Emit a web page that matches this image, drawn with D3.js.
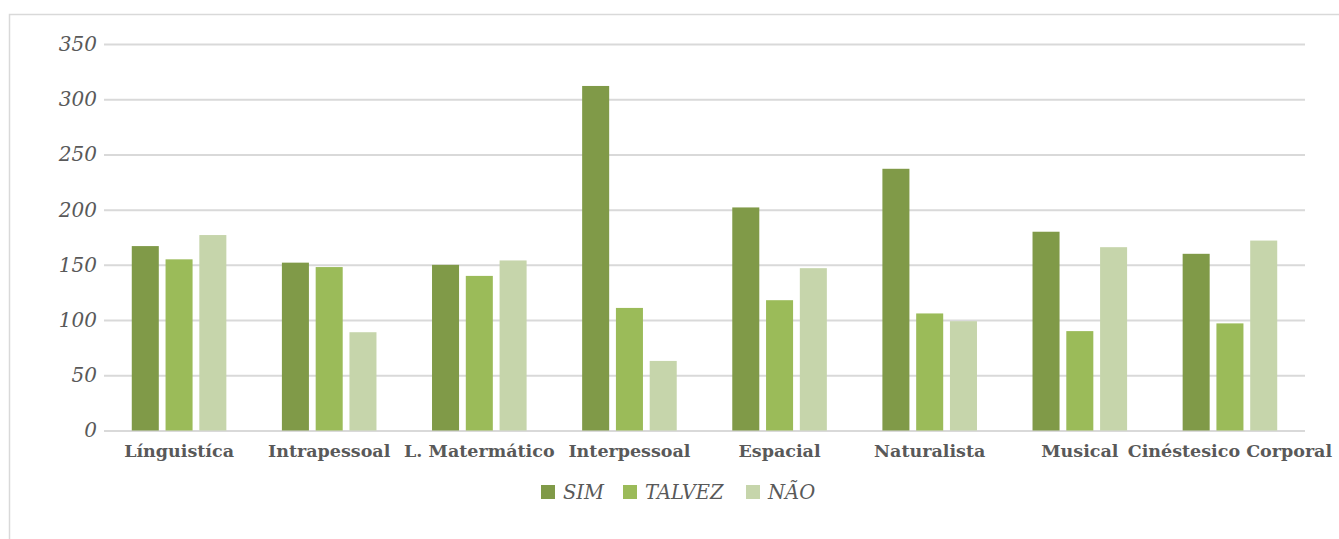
<!DOCTYPE html>
<html>
<head>
<meta charset="utf-8">
<script src="https://cdn.jsdelivr.net/npm/d3@7"></script>
<style>
  body { margin: 0; background: #fff; }
  svg text { fill: #595959; }
  .tick text { font-family: "DejaVu Serif", serif; font-style: italic; font-size: 20px; }
  .x-axis text { font-family: "DejaVu Serif", serif; font-weight: bold; font-size: 17.5px; font-style: normal; }
  .legend text { font-family: "DejaVu Serif", serif; font-style: italic; font-size: 19.5px; }
</style>
</head>
<body>
<div id="chart"></div>
<script>
const categories = ["Línguistíca", "Intrapessoal", "L. Matermático", "Interpessoal", "Espacial", "Naturalista", "Musical", "Cinéstesico Corporal"]
const seriesNames = ["SIM", "TALVEZ", "NÃO"]
const sim = [167, 152, 150, 312, 202, 237, 180, 160]
const talvez = [155, 148, 140, 111, 118, 106, 90, 97]
const nao = [177, 89, 154, 63, 147, 99, 166, 172]
const yTicks = [0, 50, 100, 150, 200, 250, 300, 350]
const colors = ["#809a48", "#9bbb59", "#c6d5ab"]

const width = 1339, height = 539
const svg = d3.select('#chart').append('svg').attr('width', width).attr('height', height)

// outer chart border
svg.append('rect').attr('x', 9.5).attr('y', 14.5).attr('width', 1400).attr('height', 600)
  .attr('fill', 'none').attr('stroke', '#d9d9d9').attr('stroke-width', 1.5)

const plotLeft = 104, plotRight = 1305, plotTop = 44, plotBottom = 430.5
const x = d3.scaleBand().domain(categories).range([plotLeft, plotRight]).paddingInner(0.37).paddingOuter(0.185)
const xs = d3.scaleBand().domain(seriesNames).range([0, x.bandwidth()]).paddingInner(0.2)
const y = d3.scaleLinear().domain([0, 350]).range([plotBottom, plotTop])

// grid + y labels
const axisY = d3.axisLeft(y).tickValues(yTicks).tickSize(-(plotRight - plotLeft)).tickPadding(7)
svg.append('g').attr('class', 'y-axis').attr('transform', `translate(${plotLeft}, 0)`).call(axisY)
  .call(g => g.select('.domain').remove())
  .call(g => g.selectAll('.tick line').attr('stroke', '#d9d9d9').attr('stroke-width', 2))

const data = categories.map((c, i) => ({ cat: c, values: [sim[i], talvez[i], nao[i]] }))
svg.append('g').selectAll('g').data(data).enter().append('g')
  .attr('transform', d => `translate(${x(d.cat)}, 0)`)
  .selectAll('rect').data(d => d.values.map((v, j) => ({ key: seriesNames[j], value: v })))
  .enter().append('rect')
  .attr('x', d => xs(d.key))
  .attr('y', d => y(d.value))
  .attr('width', xs.bandwidth())
  .attr('height', d => y(0) - y(d.value))
  .attr('fill', (d, j) => colors[j])

const axisX = d3.axisBottom(x).tickSize(0).tickPadding(14)
svg.append('g').attr('class', 'x-axis').attr('transform', `translate(0, ${plotBottom})`).call(axisX)
  .call(g => g.select('.domain').remove())

// legend
const legendX = [541, 623, 746]
const legend = svg.append('g').attr('class', 'legend')
seriesNames.forEach((s, i) => {
  legend.append('rect').attr('x', legendX[i]).attr('y', 485).attr('width', 14).attr('height', 14).attr('fill', colors[i])
  legend.append('text').attr('x', legendX[i] + 22).attr('y', 499).text(s)
})
</script>
</body>
</html>
